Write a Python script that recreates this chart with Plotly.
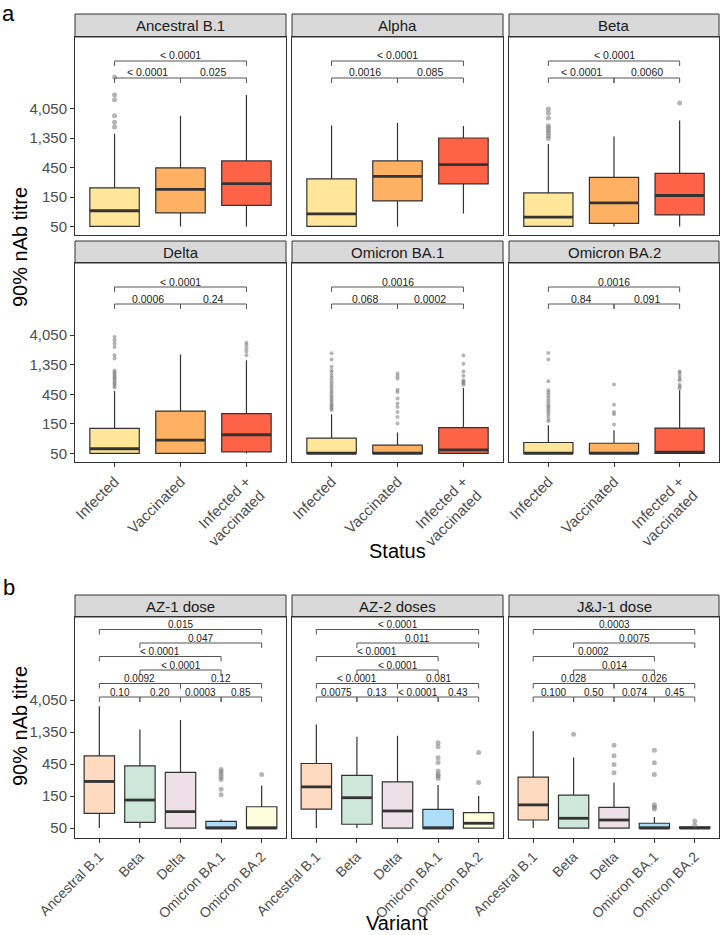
import math
import plotly.graph_objects as go

W, H = 721, 935

# ------------------------------------------------------------------ data: panel a
A_PANELS = ["Ancestral B.1", "Alpha", "Beta", "Delta", "Omicron BA.1", "Omicron BA.2"]
A_STATUS = ["Infected", "Vaccinated", "Infected +<br>vaccinated"]
A_COLORS = ["#FFE699", "#FEB063", "#FF6347"]

A_Q1 = [[50, 83, 110], [50, 130, 245], [50, 56, 77],
        [50, 50, 53], [50, 50, 50], [50, 50, 50]]
A_MED = [[90, 200, 248], [80, 325, 503], [71, 121, 159],
         [59.5, 82, 100], [50, 50, 57], [50, 50, 52.5]]
A_Q3 = [[211, 445, 578], [295, 578, 1360], [175, 313, 364],
        [127, 241, 219], [88, 68, 130], [75, 73, 128]]
A_LO = [[50, 50, 50], [50, 50, 81], [50, 50, 50],
        [50, 50, 50], [50, 50, 50], [50, 50, 50]]
A_HI = [[1590, 3110, 6790], [2170, 2380, 2120], [1090, 1440, 2620],
        [509, 1970, 1600], [214, 109, 570], [142, 118, 522]]
A_OUT = [
    [[2050, 2440, 3110, 5700, 6790, 13260], [], []],
    [[], [], []],
    [[1340, 1480, 1640, 1800, 1970, 2150, 2860, 3450, 4010], [], [5010]],
    [[580, 620, 660, 700, 750, 800, 850, 900, 960, 1020, 1090, 1700, 1920, 2610, 2970, 3360, 3790],
     [],
     [1920, 2200, 2500, 2800, 3050]],
    [[250, 265, 280, 300, 320, 345, 370, 400, 430, 470, 510, 560, 610, 670, 740, 820, 900,
      1000, 1100, 1250, 1640, 2070],
     [152, 193, 233, 280, 320, 385, 490, 535, 805, 880, 970],
     [640, 680, 720, 760, 900, 1050, 1400, 1900]],
    [[165, 180, 200, 220, 240, 260, 280, 300, 330, 360, 400, 440, 480, 525, 730, 1640, 2090],
     [147, 214, 233, 306, 650],
     [560, 600, 640, 760, 810, 900, 1000, 1050]],
]
A_P_13 = ["< 0.0001", "< 0.0001", "< 0.0001", "< 0.0001", "0.0016", "0.0016"]
A_P_12 = ["< 0.0001", "0.0016", "< 0.0001", "0.0006", "0.068", "0.84"]
A_P_23 = ["0.025", "0.085", "0.0060", "0.24", "0.0002", "0.091"]

# ------------------------------------------------------------------ data: panel b
B_GROUPS = ["AZ-1 dose", "AZ-2 doses", "J&J-1 dose"]
B_VARIANTS = ["Ancestral B.1", "Beta", "Delta", "Omicron BA.1", "Omicron BA.2"]
B_COLORS = ["#FDDAC0", "#CDE7DA", "#EEE0E7", "#AEDDF8", "#FEFEDC"]

B_Q1 = [[83, 61, 50, 50, 50], [96, 57, 50, 50, 50], [66, 50, 50, 50, 50]]
B_MED = [[248, 131, 88, 50, 50], [206, 142, 90, 50, 59], [111, 70, 66, 50, 50]]
B_Q3 = [[599, 424, 338, 63, 104], [460, 305, 245, 95, 85], [288, 155, 102, 59, 52]]
B_LO = [[50, 50, 50, 50, 50], [50, 50, 50, 50, 50], [50, 50, 50, 50, 50]]
B_HI = [[3290, 1480, 2040, 67, 214], [1760, 1150, 1190, 219, 150], [1400, 566, 237, 73, 53]]
B_OUT = [
    [[], [], [], [157, 189, 266, 290, 319, 346, 375], [316]],
    [[], [], [], [274, 298, 319, 354, 475, 560, 814, 937], [240, 671]],
    [[], [1260], [334, 445, 599, 864], [96, 103, 111, 316, 470, 722], [55, 64]],
]
B_PAIRS = [[(1, 5)], [(2, 5)], [(1, 4)], [(2, 4)], [(1, 3), (3, 5)],
           [(1, 2), (2, 3), (3, 4), (4, 5)]]
B_P = [
    [["0.015"], ["0.047"], ["< 0.0001"], ["< 0.0001"], ["0.0092", "0.12"],
     ["0.10", "0.20", "0.0003", "0.85"]],
    [["< 0.0001"], ["0.011"], ["< 0.0001"], ["< 0.0001"], ["< 0.0001", "0.081"],
     ["0.0075", "0.13", "< 0.0001", "0.43"]],
    [["0.0003"], ["0.0075"], ["0.0002"], ["0.014"], ["0.028", "0.026"],
     ["0.100", "0.50", "0.074", "0.45"]],
]

Y_TICKS = [50, 150, 450, 1350, 4050]
Y_TICKTEXT = ["50", "150", "450", "1,350", "4,050"]

# ------------------------------------------------------------------ geometry (pixels)
COLS = [(75, 286), (292, 503), (509, 719)]
ROWS_A = [(37, 235), (263, 462)]
STRIPS_A = [(14, 37), (241, 263)]
ROW_B = (617, 838)
STRIP_B = (595, 617)
L3 = math.log10(3)
RANGE_A = [math.log10(50) - 0.29 * L3, math.log10(50) + 6.44 * L3]
RANGE_B = [math.log10(50) - 0.31 * L3, math.log10(50) + 6.60 * L3]

FONT = "Liberation Sans, Arial, sans-serif"
DARK = "#333333"
TICKC = "#4D4D4D"


def fx(px):
    return px / W


def fy(py):
    return 1 - py / H


fig = go.Figure()
layout = {}
shapes = []
annotations = []


def add_panel(n, col, row_px, strip_px, strip_text, ncat, yrange, show_y, show_x,
              cats, q1, med, q3, lo, hi, outs, colors, msize, xfont):
    xa = "x" if n == 1 else f"x{n}"
    ya = "y" if n == 1 else f"y{n}"
    x0, x1 = COLS[col]
    layout["xaxis" if n == 1 else f"xaxis{n}"] = dict(
        domain=[fx(x0), fx(x1)], anchor=ya, range=[0.4, ncat + 0.6], automargin=False,
        showline=True, mirror=True, linecolor=DARK, linewidth=1,
        showgrid=False, zeroline=False,
        tickmode="array", tickvals=list(range(1, ncat + 1)),
        ticktext=cats if show_x else [""] * ncat,
        ticks="outside" if show_x else "", ticklen=4, tickcolor=DARK,
        showticklabels=show_x, tickangle=-45,
        tickfont=dict(family=FONT, size=xfont, color=TICKC),
    )
    layout["yaxis" if n == 1 else f"yaxis{n}"] = dict(
        domain=[fy(row_px[1]), fy(row_px[0])], anchor=xa, type="log", range=yrange,
        automargin=False,
        showline=True, mirror=True, linecolor=DARK, linewidth=1,
        showgrid=False, zeroline=False,
        tickmode="array", tickvals=Y_TICKS, ticktext=Y_TICKTEXT,
        ticks="outside" if show_y else "", ticklen=4, tickcolor=DARK,
        showticklabels=show_y, tickfont=dict(family=FONT, size=15, color=TICKC),
    )
    # strip
    shapes.append(dict(type="rect", xref="paper", yref="paper",
                       x0=fx(x0), x1=fx(x1), y0=fy(strip_px[1]), y1=fy(strip_px[0]),
                       fillcolor="#D9D9D9", line=dict(color=DARK, width=1), layer="below"))
    annotations.append(dict(xref="paper", yref="paper", x=fx((x0 + x1) / 2),
                            y=fy((strip_px[0] + strip_px[1]) / 2), text=strip_text,
                            showarrow=False, xanchor="center", yanchor="middle",
                            font=dict(family=FONT, size=15, color="#1A1A1A")))
    for i in range(ncat):
        pos = i + 1
        fig.add_trace(go.Box(
            x=[pos], q1=[q1[i]], median=[med[i]], q3=[q3[i]],
            lowerfence=[lo[i]], upperfence=[hi[i]], width=0.75,
            fillcolor=colors[i], line=dict(color=DARK, width=1.2), whiskerwidth=0,
            boxpoints=False, orientation="v", showlegend=False, hoverinfo="skip",
            xaxis=xa, yaxis=ya))
        fig.add_trace(go.Scatter(
            x=[pos - 0.375, pos + 0.375], y=[med[i], med[i]], mode="lines",
            line=dict(color=DARK, width=2.8), showlegend=False, hoverinfo="skip",
            xaxis=xa, yaxis=ya))
        if outs[i]:
            fig.add_trace(go.Scatter(
                x=[pos] * len(outs[i]), y=outs[i], mode="markers",
                marker=dict(color="rgba(120,120,120,0.55)", size=msize, line=dict(width=0)),
                showlegend=False, hoverinfo="skip", xaxis=xa, yaxis=ya))
    return xa, ya


def bracket(xa, ya, a, b, frac, tip, label, size):
    yd = ya + " domain"
    for (xs0, ys0, xs1, ys1) in [(a, frac - tip, a, frac), (a, frac, b, frac),
                                 (b, frac, b, frac - tip)]:
        shapes.append(dict(type="line", xref=xa, yref=yd, x0=xs0, x1=xs1, y0=ys0, y1=ys1,
                           line=dict(color="#555555", width=1)))
    annotations.append(dict(xref=xa, yref=yd, x=(a + b) / 2, y=frac, text=label,
                            showarrow=False, xanchor="center", yanchor="bottom",
                            yshift=-2.5, font=dict(family=FONT, size=size, color="#222222")))


# panel a
for k, name in enumerate(A_PANELS):
    r, c = divmod(k, 3)
    xa, ya = add_panel(k + 1, c, ROWS_A[r], STRIPS_A[r], name, 3, RANGE_A,
                       c == 0, r == 1, A_STATUS, A_Q1[k], A_MED[k], A_Q3[k],
                       A_LO[k], A_HI[k], A_OUT[k], A_COLORS, 5 if r == 0 else 4, 15)
    rh = ROWS_A[r][1] - ROWS_A[r][0]
    top_f = (ROWS_A[r][1] - (ROWS_A[r][0] + 24)) / rh
    low_f = (ROWS_A[r][1] - (ROWS_A[r][0] + 41)) / rh
    tip = 5 / rh
    bracket(xa, ya, 1, 3, top_f, tip, A_P_13[k], 10.5)
    bracket(xa, ya, 1, 2, low_f, tip, A_P_12[k], 10.5)
    bracket(xa, ya, 2, 3, low_f, tip, A_P_23[k], 10.5)

# panel b
for g, name in enumerate(B_GROUPS):
    xa, ya = add_panel(7 + g, g, ROW_B, STRIP_B, name, 5, RANGE_B,
                       g == 0, True, B_VARIANTS, B_Q1[g], B_MED[g], B_Q3[g],
                       B_LO[g], B_HI[g], B_OUT[g], B_COLORS, 5, 14)
    rh = ROW_B[1] - ROW_B[0]
    for lev, pairs in enumerate(B_PAIRS):
        line_px = 629.5 + 13.5 * lev
        frac = (ROW_B[1] - line_px) / rh
        for j, (a, b) in enumerate(pairs):
            bracket(xa, ya, a, b, frac, 5 / rh, B_P[g][lev][j], 10)

# titles and panel letters
for text, x, y, ang in [("90% nAb titre", 20, 247, -90), ("90% nAb titre", 20, 726, -90),
                        ("Status", 397, 551, 0)]:
    annotations.append(dict(xref="paper", yref="paper", x=fx(x), y=fy(y), text=text,
                            textangle=ang, showarrow=False, xanchor="center",
                            yanchor="middle", font=dict(family=FONT, size=20, color="#000000")))
annotations.append(dict(xref="paper", yref="paper", x=fx(397), y=0.0, text="Variant",
                        showarrow=False, xanchor="center", yanchor="bottom", borderpad=0,
                        font=dict(family=FONT, size=20, color="#000000")))
annotations.append(dict(xref="paper", yref="paper", x=fx(1), y=1.0, text="a",
                        showarrow=False, xanchor="left", yanchor="top", borderpad=0,
                        font=dict(family=FONT, size=22, color="#000000")))
annotations.append(dict(xref="paper", yref="paper", x=fx(1), y=fy(587), text="b",
                        showarrow=False, xanchor="left", yanchor="middle",
                        font=dict(family=FONT, size=22, color="#000000")))

fig.update_layout(**layout)
fig.update_layout(width=W, height=H, margin=dict(l=0, r=0, t=0, b=0),
                  paper_bgcolor="white", plot_bgcolor="white", showlegend=False,
                  boxmode="overlay", shapes=shapes, annotations=annotations)
fig.write_html("out.html")
